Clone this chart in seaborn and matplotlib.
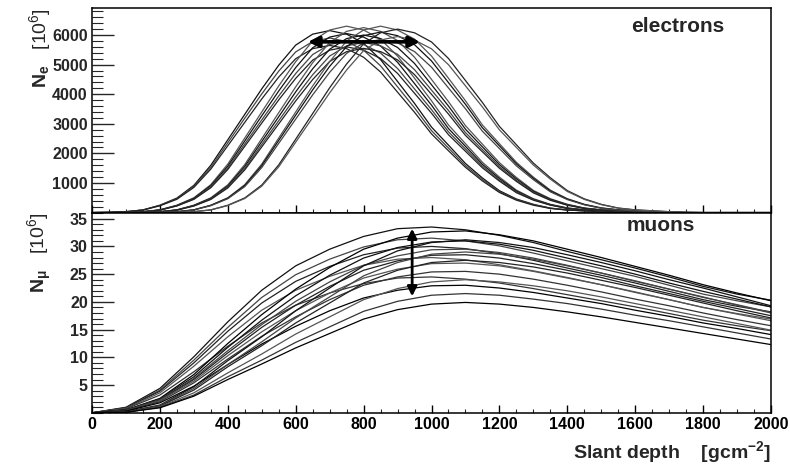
import matplotlib
matplotlib.use("Agg")
import matplotlib.pyplot as plt
import seaborn as sns
import pandas as pd
from matplotlib.ticker import MultipleLocator, FixedLocator

# ---------------- data ----------------
# electron profiles N_e [10^6], sampled every 50 g/cm^2 from 0 to 2000
depth_e = list(range(0, 2001, 50))
e01 = [0,10,30,90,250,490,920,1600,2460,3320,4180,4980,5660,6030,6150,6030,5720,5170,4430,3690,2890,2280,1660,1170,740,460,280,150,90,60,30,10,0,0,0,0,0,0,0,0,0]
e02 = [0,10,30,90,240,470,890,1530,2360,3190,4010,4780,5430,5780,5900,5780,5490,4960,4250,3540,2770,2180,1590,1120,710,440,270,150,90,60,30,10,0,0,0,0,0,0,0,0,0]
e03 = [0,10,30,85,230,450,850,1470,2260,3050,3840,4580,5200,5540,5650,5540,5250,4750,4070,3390,2660,2090,1530,1070,680,420,250,140,85,60,30,10,0,0,0,0,0,0,0,0,0]
e04 = [0,0,10,30,95,250,500,945,1640,2520,3400,4280,5100,5800,6170,6300,6170,5860,5290,4540,3780,2960,2330,1700,1200,760,470,280,160,95,60,30,10,0,0,0,0,0,0,0,0]
e05 = [0,0,10,30,90,240,480,910,1570,2420,3270,4110,4900,5570,5930,6050,5930,5630,5080,4360,3630,2840,2240,1630,1150,730,450,270,150,90,60,30,10,0,0,0,0,0,0,0,0]
e06 = [0,0,10,30,87,230,460,870,1510,2320,3130,3940,4700,5340,5680,5800,5680,5390,4870,4180,3480,2730,2150,1570,1100,700,440,260,145,87,58,29,12,0,0,0,0,0,0,0,0]
e07 = [0,0,11,28,84,224,448,840,1456,2240,3024,3808,4536,5152,5488,5600,5488,5208,4704,4032,3360,2632,2072,1512,1064,672,420,252,140,84,56,28,11,0,0,0,0,0,0,0,0]
e08 = [0,0,0,12,31,94,250,500,938,1625,2500,3375,4250,5063,5750,6125,6250,6125,5813,5250,4500,3750,2938,2313,1688,1188,750,469,281,156,94,63,31,12,0,0,0,0,0,0,0]
e09 = [0,0,0,12,30,90,240,480,900,1560,2400,3240,4080,4860,5520,5880,6000,5880,5580,5040,4320,3600,2820,2220,1620,1140,720,450,270,150,90,60,30,12,0,0,0,0,0,0,0]
e10 = [0,0,0,12,29,86,230,460,863,1495,2300,3105,3910,4658,5290,5635,5750,5635,5348,4830,4140,3450,2703,2128,1553,1093,690,431,259,144,86,58,29,12,0,0,0,0,0,0,0]
e11 = [0,0,0,11,28,83,222,444,833,1443,2220,2997,3774,4496,5106,5439,5550,5439,5162,4662,3996,3330,2609,2054,1499,1055,666,416,250,139,83,56,28,11,0,0,0,0,0,0,0]
e12 = [0,0,0,0,10,30,95,250,500,945,1640,2520,3400,4280,5100,5800,6170,6300,6170,5860,5290,4540,3780,2960,2330,1700,1200,760,470,280,160,95,60,30,10,0,0,0,0,0,0]
e13 = [0,0,0,0,12,31,92,244,488,915,1586,2440,3294,4148,4941,5612,5978,6100,5978,5673,5124,4392,3660,2867,2257,1647,1159,732,458,275,153,92,61,31,12,0,0,0,0,0,0]
e14 = [0,0,0,0,12,29,88,234,468,878,1521,2340,3159,3978,4739,5382,5733,5850,5733,5441,4914,4212,3510,2750,2165,1580,1112,702,439,263,146,88,59,29,12,0,0,0,0,0,0]
e15 = [0,0,0,0,0,12,31,93,248,496,930,1612,2480,3348,4216,5022,5704,6076,6200,6076,5766,5208,4464,3720,2914,2294,1674,1178,744,465,279,155,93,62,31,12,0,0,0,0,0]
e16 = [0,0,0,0,0,12,30,89,238,476,893,1547,2380,3213,4046,4820,5474,5831,5950,5831,5534,4998,4284,3570,2797,2202,1607,1131,714,446,268,149,89,60,30,12,0,0,0,0,0]

# muon profiles N_mu [10^6], sampled every 100 g/cm^2 from 0 to 2000
depth_m = list(range(0, 2001, 100))
m01 = [0, 1.0, 4.4, 10.1, 16.4, 22.1, 26.5, 29.5, 31.8, 33.2, 33.5, 33.0, 32.0, 30.7, 29.1, 27.6, 26.1, 24.5, 22.8, 21.4, 20.3]
m02 = [0, 0.9, 4.1, 9.5, 15.4, 20.8, 24.9, 27.7, 29.9, 31.2, 31.5, 31.0, 30.1, 28.8, 27.4, 26.0, 24.6, 23.0, 21.4, 20.2, 19.1]
m03 = [0, 0.9, 3.9, 9.0, 14.7, 19.8, 23.7, 26.4, 28.5, 29.7, 30.0, 29.6, 28.7, 27.5, 26.1, 24.8, 23.4, 21.9, 20.4, 19.2, 18.2]
m04 = [0, 0.8, 3.6, 8.4, 13.7, 18.5, 22.1, 24.6, 26.6, 27.7, 28.0, 27.6, 26.7, 25.6, 24.4, 23.1, 21.8, 20.4, 19.0, 17.9, 16.9]
m05 = [0, 0.7, 3.2, 7.4, 12.0, 16.2, 19.4, 21.6, 23.3, 24.3, 24.5, 24.1, 23.4, 22.4, 21.3, 20.2, 19.1, 17.9, 16.7, 15.7, 14.8]
m06 = [0, 0.5, 2.6, 6.9, 12.5, 17.7, 22.3, 26.2, 29.5, 31.5, 32.6, 32.8, 32.1, 31.0, 29.5, 28.0, 26.4, 24.8, 23.1, 21.6, 20.2]
m07 = [0, 0.5, 2.5, 6.5, 11.8, 16.7, 21.1, 24.8, 27.9, 29.8, 30.8, 31.0, 30.4, 29.3, 27.9, 26.5, 25.0, 23.4, 21.9, 20.5, 19.1]
m08 = [0, 0.4, 2.4, 6.2, 11.2, 15.9, 20.1, 23.6, 26.6, 28.3, 29.4, 29.5, 28.9, 27.9, 26.6, 25.2, 23.7, 22.3, 20.8, 19.5, 18.1]
m09 = [0, 0.4, 2.3, 6.0, 10.8, 15.4, 19.4, 22.8, 25.7, 27.4, 28.4, 28.5, 27.9, 26.9, 25.7, 24.4, 22.9, 21.5, 20.1, 18.8, 17.5]
m10 = [0, 0.4, 2.2, 5.7, 10.3, 14.6, 18.4, 21.6, 24.3, 25.9, 26.9, 27.0, 26.5, 25.5, 24.3, 23.1, 21.7, 20.4, 19.0, 17.8, 16.6]
m11 = [0, 0.4, 2.0, 5.4, 9.7, 13.8, 17.3, 20.4, 23.0, 24.5, 25.4, 25.5, 25.0, 24.1, 23.0, 21.8, 20.5, 19.3, 18.0, 16.8, 15.7]
m12 = [0, 0.3, 1.8, 4.8, 8.7, 12.4, 15.6, 18.4, 20.7, 22.1, 22.9, 23.0, 22.5, 21.7, 20.7, 19.7, 18.5, 17.4, 16.2, 15.2, 14.1]
m13 = [0, 0.2, 1.4, 4.7, 9.4, 13.7, 18.4, 22.5, 26.5, 29.2, 30.7, 31.2, 30.7, 29.8, 28.5, 27.1, 25.6, 24.0, 22.5, 20.9, 19.3]
m14 = [0, 0.1, 1.3, 4.4, 8.7, 12.8, 17.1, 20.9, 24.7, 27.1, 28.6, 29.0, 28.6, 27.7, 26.5, 25.2, 23.8, 22.3, 20.9, 19.4, 18.0]
m15 = [0, 0.1, 1.2, 4.1, 8.3, 12.1, 16.2, 19.8, 23.4, 25.7, 27.1, 27.5, 27.1, 26.3, 25.2, 23.9, 22.6, 21.2, 19.8, 18.4, 17.1]
m16 = [0, 0.1, 1.1, 3.6, 7.2, 10.6, 14.2, 17.3, 20.4, 22.4, 23.6, 24.0, 23.6, 22.9, 22.0, 20.9, 19.7, 18.5, 17.3, 16.1, 14.9]
m17 = [0, 0.1, 1.0, 3.2, 6.5, 9.5, 12.7, 15.5, 18.3, 20.1, 21.2, 21.5, 21.2, 20.5, 19.7, 18.7, 17.6, 16.6, 15.5, 14.4, 13.3]
m18 = [0, 0.1, 0.9, 3.0, 6.0, 8.8, 11.7, 14.3, 16.9, 18.6, 19.6, 19.9, 19.6, 19.0, 18.2, 17.3, 16.3, 15.3, 14.3, 13.3, 12.3]

x_ticks = [0, 200, 400, 600, 800, 1000, 1200, 1400, 1600, 1800, 2000]
e_ticks = [1000, 2000, 3000, 4000, 5000, 6000]
m_ticks = [5, 10, 15, 20, 25, 30, 35]

# ---------------- build long tables ----------------
e_curves = [e01, e02, e03, e04, e05, e06, e07, e08, e09, e10, e11, e12, e13, e14, e15, e16]
m_curves = [m01, m02, m03, m04, m05, m06, m07, m08, m09, m10, m11, m12, m13, m14, m15, m16, m17, m18]

def long_table(depths, curves):
    rows = []
    for i, c in enumerate(curves):
        for d, v in zip(depths, c):
            rows.append({"depth": d, "N": v, "shower": f"s{i:02d}"})
    return pd.DataFrame(rows)

df_e = long_table(depth_e, e_curves)
df_m = long_table(depth_m, m_curves)

# ---------------- style ----------------
sns.set_theme(style="white")
plt.rcParams["font.family"] = ["Liberation Sans", "DejaVu Sans"]
plt.rcParams["mathtext.fontset"] = "custom"
plt.rcParams["mathtext.rm"] = "Liberation Sans"
plt.rcParams["mathtext.bf"] = "Liberation Sans:bold"
plt.rcParams["mathtext.it"] = "Liberation Sans:italic"

fig = plt.figure(figsize=(7.9, 4.75), dpi=100)
W, H = 790.0, 475.0
left, right = 92 / W, 771 / W
ax_e = fig.add_axes([left, 1 - 212.6 / H, right - left, (212.6 - 8.4) / H])
ax_m = fig.add_axes([left, 1 - 412.8 / H, right - left, (412.8 - 212.6) / H])

greys_e = ["#111111", "#444444", "#222222", "#555555"] * 4
greys_m = ["#111111", "#444444", "#222222", "#555555", "#333333", "#000000"] * 3

sns.lineplot(data=df_e, x="depth", y="N", hue="shower", units="shower", estimator=None,
             palette=greys_e[:len(e_curves)], linewidth=0.9, legend=False, ax=ax_e)
sns.lineplot(data=df_m, x="depth", y="N", hue="shower", units="shower", estimator=None,
             palette=greys_m[:len(m_curves)], linewidth=0.9, legend=False, ax=ax_m)

for ax in (ax_e, ax_m):
    ax.set_xlim(0, 2000)
    ax.set_xlabel("")
    ax.set_ylabel("")
    for s in ax.spines.values():
        s.set_color("black")
        s.set_linewidth(1.1)
        s.set_visible(True)
    ax.xaxis.set_major_locator(FixedLocator(x_ticks))
    ax.xaxis.set_minor_locator(MultipleLocator(50))
    ax.tick_params(axis="x", which="major", direction="in", length=6, width=1, colors="black",
                   bottom=True, top=False)
    ax.tick_params(axis="x", which="minor", direction="in", length=3, width=0.8,
                   bottom=True, top=False)
    ax.tick_params(axis="y", which="major", direction="in", length=16, width=1,
                   left=True, right=False)
    ax.tick_params(axis="y", which="minor", direction="in", length=8, width=0.8,
                   left=True, right=False)
    ax.tick_params(labelsize=11.5, pad=3)

ax_e.set_ylim(0, 6900)
ax_e.yaxis.set_major_locator(FixedLocator(e_ticks))
ax_e.yaxis.set_minor_locator(MultipleLocator(200))
ax_e.set_xticklabels([])

ax_m.set_ylim(0, 36.1)
ax_m.yaxis.set_major_locator(FixedLocator(m_ticks))
ax_m.yaxis.set_minor_locator(MultipleLocator(1))
ax_m.set_xticklabels([str(t) for t in x_ticks])

for ax in (ax_e, ax_m):
    for lab in ax.get_xticklabels() + ax.get_yticklabels():
        lab.set_fontweight("bold")

# arrows
ax_e.annotate("", xy=(966, 5770), xytext=(636, 5770),
              arrowprops=dict(arrowstyle="<|-|>", color="black", lw=2.6, mutation_scale=16,
                              shrinkA=0, shrinkB=0))
ax_m.annotate("", xy=(943, 33.2), xytext=(943, 21.0),
              arrowprops=dict(arrowstyle="<|-|>", color="black", lw=2.0, mutation_scale=14,
                              shrinkA=0, shrinkB=0))

# panel captions
ax_e.text(0.932, 0.909, "electrons", transform=ax_e.transAxes, ha="right", va="center",
          fontsize=15, fontweight="bold")
ax_m.text(0.888, 0.935, "muons", transform=ax_m.transAxes, ha="right", va="center",
          fontsize=15, fontweight="bold")

# axis titles
fig.text(40 / W, 1 - 8 / H, r"$\mathbf{N_e}$   [10$^6$]", rotation=90, ha="center", va="top",
         fontsize=14)
fig.text(40 / W, 1 - 212 / H, r"$\mathbf{N_{\mu}}$   [10$^6$]", rotation=90, ha="center", va="top",
         fontsize=14)
fig.text(771 / W, 1 - 452 / H, r"Slant depth    [gcm$^{\mathbf{-2}}$]", ha="right", va="center",
         fontsize=14, fontweight="bold")

fig.savefig("out.png", dpi=100)
